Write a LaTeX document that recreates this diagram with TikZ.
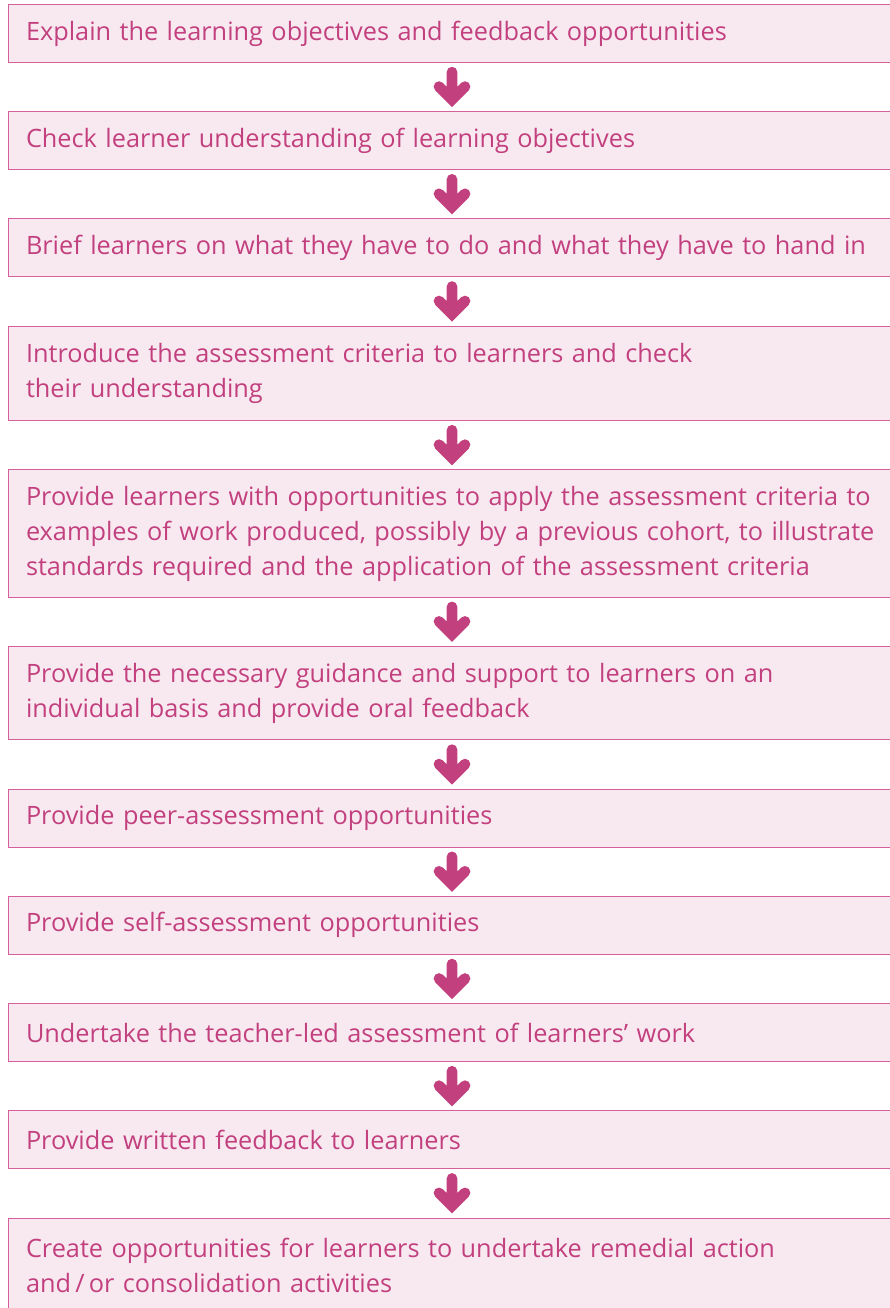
\documentclass[tikz,border=0pt]{standalone}
\usepackage{fontspec}
\setmainfont{Open Sans}[Ligatures=NoCommon]
\usetikzlibrary{calc,positioning}
\definecolor{stepink}{HTML}{C2407E}
\definecolor{stepline}{HTML}{D6609C}
\definecolor{stepfill}{HTML}{F8E9F1}
\tikzset{
  every picture/.style={font=\fontsize{25.3pt}{35pt}\selectfont,text=stepink},
  stepbox/.style={draw=stepline,fill=stepfill,line width=1pt,outer sep=0pt,
    anchor=north west,align=left,text width=880pt,inner xsep=18pt,
    inner ysep=0pt,minimum height=57.8pt},
  flowarrow/.style={draw=stepink,line width=10.7pt,line cap=round,
    line join=miter},
}
\begin{document}
\begin{tikzpicture}[x=1pt,y=1pt,node distance=49.4pt]
  \path[use as bounding box] (0,0) rectangle (889,-1308);
  % one box per step, stacked top to bottom; the last box runs off the page
  \node[stepbox] (b1) at (8,-4.5)
    {Explain the learning objectives and feedback opportunities};
  \node[stepbox,below=of b1] (b2)
    {Check learner understanding of learning objectives};
  \node[stepbox,below=of b2] (b3)
    {Brief learners on what they have to do and what they have to hand in};
  \node[stepbox,below=of b3,minimum height=94.3pt] (b4)
    {Introduce the assessment criteria to learners and check\\
     their understanding};
  \node[stepbox,below=of b4,minimum height=127.3pt] (b5)
    {Provide learners with opportunities to apply the assessment criteria to\\
     examples of work produced, possibly by a previous cohort, to illustrate\\
     standards required and the application of the assessment criteria};
  \node[stepbox,below=of b5,minimum height=93.3pt] (b6)
    {Provide the necessary guidance and support to learners on an\\
     individual basis and provide oral feedback};
  \node[stepbox,below=of b6] (b7) {Provide peer-assessment opportunities};
  \node[stepbox,below=of b7] (b8) {Provide self-assessment opportunities};
  \node[stepbox,below=of b8] (b9)
    {Undertake the teacher-led assessment of learners’ work};
  \node[stepbox,below=of b9] (b10) {Provide written feedback to learners};
  \node[stepbox,below=of b10,minimum height=94.3pt] (b11)
    {Create opportunities for learners to undertake remedial action\\
     and\,/\,or consolidation activities};
  % down arrows sit on a common axis, not on the box centres
  \coordinate (axis) at (452,0);
  \foreach \a/\b in {b1/b2,b2/b3,b3/b4,b4/b5,b5/b6,b6/b7,b7/b8,b8/b9,b9/b10,b10/b11}
    \draw[flowarrow] ($(\a.south -| axis)+(0,-9.85)$) -- ($(\b.north -| axis)+(0,12.1)$)
      ++(-13,13) -- ++(13,-13) -- ++(13,13);
\end{tikzpicture}
\end{document}
